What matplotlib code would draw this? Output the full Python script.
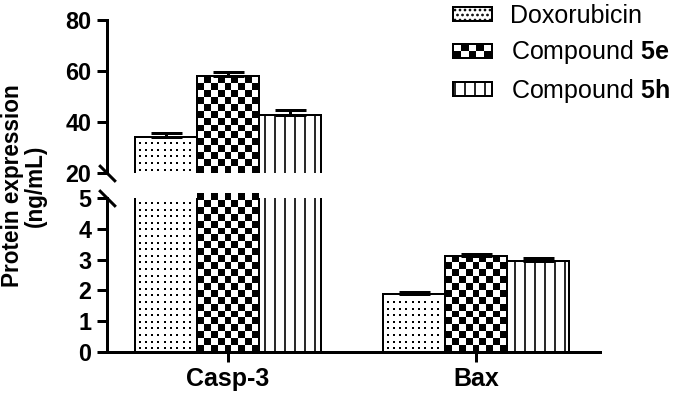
import matplotlib
matplotlib.use("Agg")
import matplotlib.pyplot as plt
import numpy as np
from matplotlib.legend_handler import HandlerBase
from matplotlib.patches import Rectangle

plt.rcParams["font.family"] = ["Liberation Sans", "DejaVu Sans"]
plt.rcParams["mathtext.fontset"] = "custom"
plt.rcParams["mathtext.rm"] = "Liberation Sans"
plt.rcParams["mathtext.bf"] = "Liberation Sans:bold"
plt.rcParams["hatch.linewidth"] = 2.0

# data
groups = ["Casp-3", "Bax"]
series = ["Doxorubicin", "Compound $\\mathbf{5e}$", "Compound $\\mathbf{5h}$"]
doxorubicin = [34.3, 1.87]
doxorubicin_err = [1.3, 0.07]
cmpd_5e = [58.2, 3.12]
cmpd_5e_err = [1.6, 0.08]
cmpd_5h = [42.9, 2.96]
cmpd_5h_err = [1.7, 0.08]

values = [doxorubicin, cmpd_5e, cmpd_5h]
errors = [doxorubicin_err, cmpd_5e_err, cmpd_5h_err]
fills = ["dots", "checker", "|"]

DPI = 60
W, H = 683, 397
LW = 3.6
bar_w = 0.25
x = np.arange(len(groups))


def set_hlw(patch, lw):
    if hasattr(patch, "set_hatch_linewidth"):
        patch.set_hatch_linewidth(lw)


def px_scale(ax):
    """Pixels per data unit along x and y for an axes."""
    bb = ax.get_position()
    xl, yl = ax.get_xlim(), ax.get_ylim()
    return bb.width * W / (xl[1] - xl[0]), bb.height * H / (yl[1] - yl[0])


fig = plt.figure(figsize=(W / DPI, H / DPI), dpi=DPI)
left, right = 107 / W, 600 / W
ax_top = fig.add_axes([left, 1 - 173 / H, right - left, (173 - 20) / H])
ax_bot = fig.add_axes([left, 1 - 351.7 / H, right - left, (351.7 - 198.3) / H])

for ax, ylim in ((ax_top, (20, 80)), (ax_bot, (0, 5))):
    ax.set_xlim(-0.488, 1.5)
    ax.set_ylim(*ylim)
    sx, sy = px_scale(ax)

    for i, (vals, errs, fill) in enumerate(zip(values, errors, fills)):
        pos = x + (i - 1) * bar_w
        if fill == "|":
            bars = ax.bar(pos, vals, width=bar_w, facecolor="white",
                          edgecolor="black", hatch="|", linewidth=2.4, zorder=1)
            for rect in bars:
                set_hlw(rect, 2.0)
        else:
            bars = ax.bar(pos, vals, width=bar_w, facecolor="none",
                          edgecolor="black", linewidth=2.4, zorder=2)
        for rect in bars:
            x0 = rect.get_x()
            y0 = ylim[0]
            y1 = min(rect.get_height(), ylim[1])
            if y1 <= y0 or fill == "|":
                continue
            if fill == "checker":
                sq_y = bar_w * sx / 9 / sy
                nrows = int(np.ceil((y1 - y0) / sq_y))
                board = np.indices((nrows, 9)).sum(axis=0) % 2
                im = ax.imshow(board, cmap="gray", origin="lower",
                               extent=(x0, x0 + bar_w, y0, y0 + nrows * sq_y),
                               aspect="auto", interpolation="nearest", zorder=1)
                im.set_clip_path(rect)
            else:
                # dotted fill: ~6.5 px grid of small square dots
                dx = 6.3 / sx
                dy = 6.6 / sy
                gx = np.arange(x0 + 4.5 / sx, x0 + bar_w - 2 / sx, dx)
                gy = np.arange(y0 + 3.5 / sy, y1 - 2 / sy, dy)
                mx, my = np.meshgrid(gx, gy)
                dots = ax.scatter(mx.ravel(), my.ravel(), s=6, marker="s",
                                  color="black", linewidths=0, zorder=1)
                dots.set_clip_path(rect)
        ax.errorbar(pos, vals, yerr=[np.zeros(len(errs)), errs], fmt="none",
                    ecolor="black", elinewidth=LW, capsize=18.6, capthick=LW,
                    zorder=3)

    ax.spines["left"].set_linewidth(LW)
    ax.spines["top"].set_visible(False)
    ax.spines["right"].set_visible(False)
    ax.tick_params(axis="y", length=12, width=LW, pad=7)
    ax.set_xlim(-0.488, 1.5)
    ax.set_ylim(*ylim)

ax_top.spines["bottom"].set_visible(False)
ax_top.set_xticks([])
ax_top.set_yticks([20, 40, 60, 80])
ax_top.set_yticklabels(["20", "40", "60", "80"], fontweight="bold", fontsize=28)

ax_bot.spines["bottom"].set_linewidth(LW)
ax_bot.set_yticks(range(6))
ax_bot.set_yticklabels([str(v) for v in range(6)], fontweight="bold", fontsize=28)
ax_bot.set_xticks(x)
ax_bot.set_xticklabels(groups, fontweight="bold", fontsize=30)
ax_bot.tick_params(axis="x", length=12, width=LW, pad=6)

# break marks on the y axis
slash = dict(marker=[(-1, 1), (1, -1)], markersize=20, linestyle="none",
             color="black", mec="black", mew=LW, clip_on=False)
ax_top.plot([0], [0], transform=ax_top.transAxes, **slash)
ax_bot.plot([0], [1], transform=ax_bot.transAxes, **slash)

fig.text(24 / W, 1 - 186 / H, "Protein expression\n(ng/mL)", rotation=90,
         ha="center", va="center", multialignment="center",
         fontsize=27, fontweight="bold", linespacing=1.0)


class CheckerHandler(HandlerBase):
    def create_artists(self, legend, orig_handle, xdescent, ydescent,
                       width, height, fontsize, trans):
        x0, y0 = -xdescent, -ydescent
        nrows = 2
        sq = height / nrows
        ncols = int(round(width / sq))
        sw = width / ncols
        arts = []
        for r in range(nrows):
            for c in range(ncols):
                if (r + c) % 2 == 0:
                    arts.append(Rectangle((x0 + c * sw, y0 + r * sq), sw, sq,
                                          facecolor="black", edgecolor="none",
                                          transform=trans))
        arts.append(Rectangle((x0, y0), width, height, facecolor="none",
                              edgecolor="black", linewidth=2.4, transform=trans))
        return arts


handles = []
for fill, hatch, hlw in zip(fills, ["..", None, "|"], [1.0, 2.0, 2.0]):
    h = Rectangle((0, 0), 1, 1, facecolor="white", edgecolor="black",
                  hatch=hatch, linewidth=2.4)
    set_hlw(h, hlw)
    handles.append(h)
fig.legend(handles, series, loc="upper left", bbox_to_anchor=(453 / W, 1 - 4 / H),
           frameon=False, fontsize=30, borderpad=0, borderaxespad=0,
           handlelength=1.55, handleheight=0.5, handletextpad=0.75,
           labelspacing=0.42, handler_map={handles[1]: CheckerHandler()})

fig.savefig("out.png", dpi=DPI)
